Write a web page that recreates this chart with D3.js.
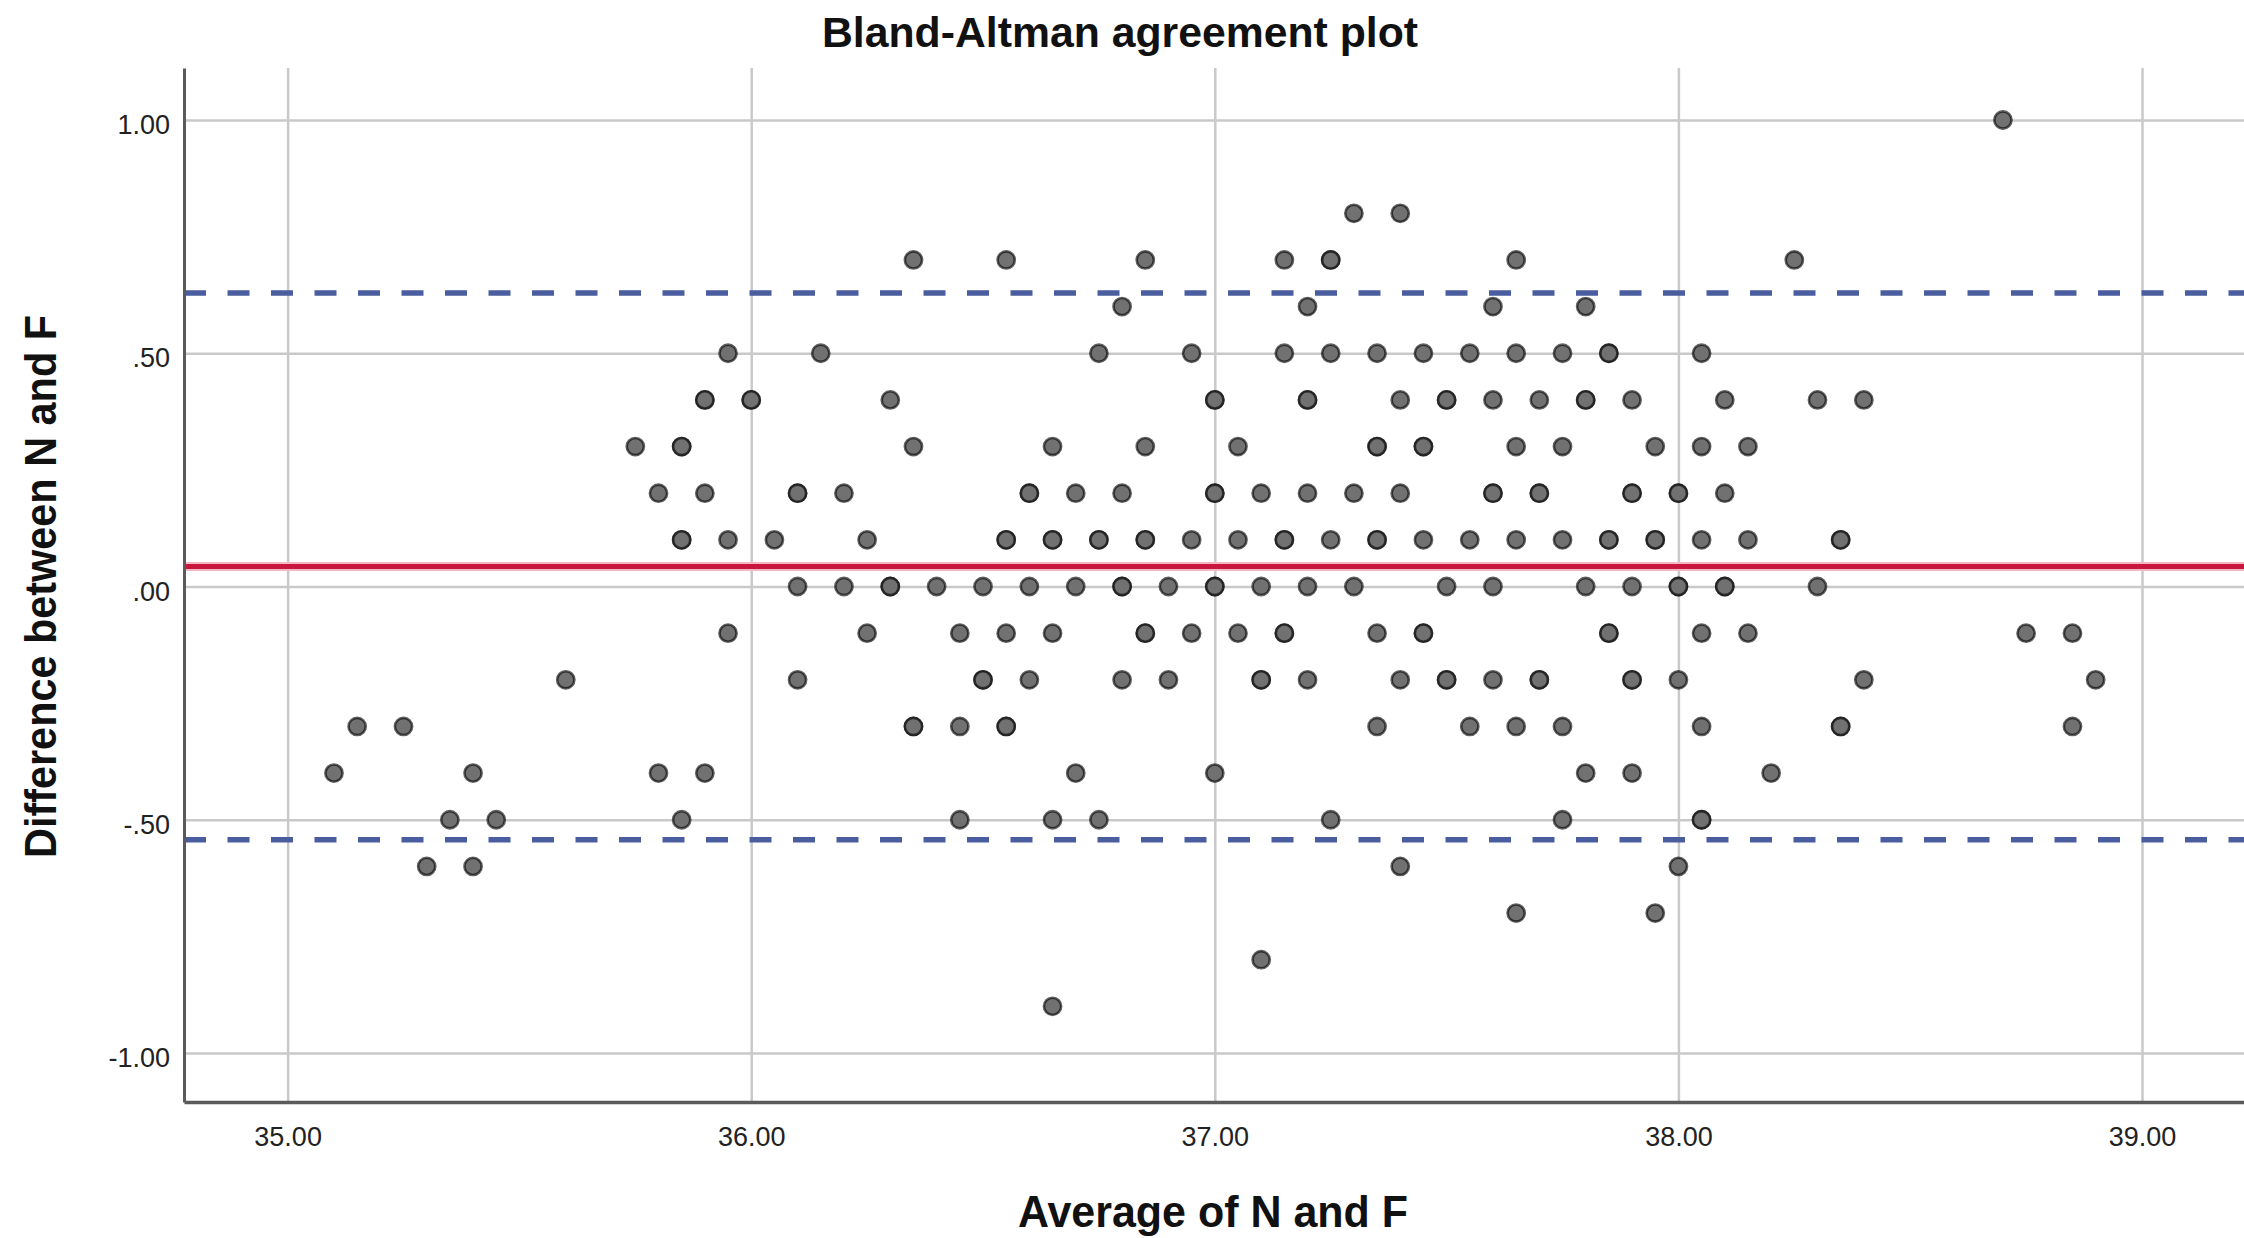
<!DOCTYPE html>
<html>
<head>
<meta charset="utf-8">
<script src="https://cdn.jsdelivr.net/npm/d3@7"></script>
<style>
  html, body { margin: 0; padding: 0; background: #ffffff; }
  svg { display: block; }
</style>
</head>
<body>
<script>
// average of N and F for each difference level (difference = row value)
var rowP100 = [38.70];
var rowP080 = [37.30, 37.40];
var rowP070 = [36.35, 36.55, 36.85, 37.15, 37.25, 37.65, 38.25];
var rowP060 = [36.80, 37.20, 37.60, 37.80];
var rowP050 = [35.95, 36.15, 36.75, 36.95, 37.15, 37.25, 37.35, 37.45, 37.55, 37.65, 37.75, 37.85, 38.05];
var rowP040 = [35.90, 36.00, 36.30, 37.00, 37.20, 37.40, 37.50, 37.60, 37.70, 37.80, 37.90, 38.10, 38.30, 38.40];
var rowP030 = [35.75, 35.85, 36.35, 36.65, 36.85, 37.05, 37.35, 37.45, 37.65, 37.75, 37.95, 38.05, 38.15];
var rowP020 = [35.80, 35.90, 36.10, 36.20, 36.60, 36.70, 36.80, 37.00, 37.10, 37.20, 37.30, 37.40, 37.60, 37.70, 37.90, 38.00, 38.10];
var rowP010 = [35.85, 35.95, 36.05, 36.25, 36.55, 36.65, 36.75, 36.85, 36.95, 37.05, 37.15, 37.25, 37.35, 37.45, 37.55, 37.65, 37.75, 37.85, 37.95, 38.05, 38.15, 38.35];
var row000 = [36.10, 36.20, 36.30, 36.40, 36.50, 36.60, 36.70, 36.80, 36.90, 37.00, 37.10, 37.20, 37.30, 37.50, 37.60, 37.80, 37.90, 38.00, 38.10, 38.30];
var rowN010 = [35.95, 36.25, 36.45, 36.55, 36.65, 36.85, 36.95, 37.05, 37.15, 37.35, 37.45, 37.85, 38.05, 38.15, 38.75, 38.85];
var rowN020 = [35.60, 36.10, 36.50, 36.60, 36.80, 36.90, 37.10, 37.20, 37.40, 37.50, 37.60, 37.70, 37.90, 38.00, 38.40, 38.90];
var rowN030 = [35.15, 35.25, 36.35, 36.45, 36.55, 37.35, 37.55, 37.65, 37.75, 38.05, 38.35, 38.85];
var rowN040 = [35.10, 35.40, 35.80, 35.90, 36.70, 37.00, 37.80, 37.90, 38.20];
var rowN050 = [35.35, 35.45, 35.85, 36.45, 36.65, 36.75, 37.25, 37.75, 38.05];
var rowN060 = [35.30, 35.40, 37.40, 38.00];
var rowN070 = [37.65, 37.95];
var rowN080 = [37.10];
var rowN090 = [36.65];

// points that appear darker (several cases at the same spot)
var repeats = [
    [36.00, 0.4], [35.90, 0.4], [35.85, 0.3], [35.85, 0.1], [36.10, 0.2],
    [37.00, 0.4], [37.20, 0.4], [37.50, 0.4], [37.80, 0.4], [37.25, 0.7],
    [37.35, 0.3], [37.45, 0.3], [36.60, 0.2], [37.00, 0.2], [37.60, 0.2],
    [37.70, 0.2], [37.90, 0.2], [38.00, 0.2], [36.55, 0.1], [36.65, 0.1],
    [36.75, 0.1], [36.85, 0.1], [37.15, 0.1], [37.35, 0.1], [37.85, 0.1],
    [37.95, 0.1], [38.35, 0.1], [36.30, 0.0], [36.80, 0.0], [37.00, 0.0],
    [38.00, 0.0], [38.10, 0.0], [36.85, -0.1], [37.15, -0.1], [37.45, -0.1],
    [37.85, -0.1], [36.50, -0.2], [37.10, -0.2], [37.50, -0.2], [37.70, -0.2],
    [37.90, -0.2], [36.35, -0.3], [36.55, -0.3], [38.35, -0.3], [38.05, -0.5],
    [37.85, 0.5]
];

var meanDiff = 0.043;
var upperLoA = 0.629;
var lowerLoA = -0.543;

var xTicks = [35, 36, 37, 38, 39];
var yTicks = [-1, -0.5, 0, 0.5, 1];

var rows = [
    [1.0, rowP100], [0.8, rowP080], [0.7, rowP070], [0.6, rowP060], [0.5, rowP050],
    [0.4, rowP040], [0.3, rowP030], [0.2, rowP020], [0.1, rowP010], [0.0, row000],
    [-0.1, rowN010], [-0.2, rowN020], [-0.3, rowN030], [-0.4, rowN040], [-0.5, rowN050],
    [-0.6, rowN060], [-0.7, rowN070], [-0.8, rowN080], [-0.9, rowN090]
];

var points = [];
rows.forEach(function(r) {
    r[1].forEach(function(avg) {
        points.push({avg: avg, diff: r[0]});
    });
});
repeats.forEach(function(p) {
    points.push({avg: p[0], diff: p[1]});
});

var W = 2244, H = 1238;
// note: "top" clashes with window.top, so the plot edges get their own names
var plotLeft = 184, plotRight = 2244, plotTop = 68, plotBottom = 1102;
var font = "'Liberation Sans', Arial, sans-serif";

var svg = d3.select("body").append("svg")
    .attr("width", W)
    .attr("height", H);

var x = d3.scaleLinear().domain([34.7765, 39.22]).range([plotLeft, plotRight]);
var y = d3.scaleLinear().domain([-1.105, 1.1115]).range([plotBottom, plotTop]);

// grid
svg.append("g")
    .attr("transform", "translate(0," + plotBottom + ")")
    .call(d3.axisBottom(x).tickValues(xTicks).tickSize(-(plotBottom - plotTop)).tickFormat(""))
    .call(function(g) { g.select(".domain").remove(); })
    .selectAll("line")
    .attr("stroke", "#c9c9c9")
    .attr("stroke-width", 2.5);

svg.append("g")
    .attr("transform", "translate(" + plotLeft + ",0)")
    .call(d3.axisLeft(y).tickValues(yTicks).tickSize(-(plotRight - plotLeft)).tickFormat(""))
    .call(function(g) { g.select(".domain").remove(); })
    .selectAll("line")
    .attr("stroke", "#c9c9c9")
    .attr("stroke-width", 2.5);

// reference lines
svg.append("line")
    .attr("x1", plotLeft).attr("x2", plotRight)
    .attr("y1", y(meanDiff)).attr("y2", y(meanDiff))
    .attr("stroke", "#f3b8c6")
    .attr("stroke-width", 9);
svg.append("line")
    .attr("x1", plotLeft).attr("x2", plotRight)
    .attr("y1", y(meanDiff)).attr("y2", y(meanDiff))
    .attr("stroke", "#c8173f")
    .attr("stroke-width", 5);

[upperLoA, lowerLoA].forEach(function(v) {
    svg.append("line")
        .attr("x1", plotLeft).attr("x2", plotRight)
        .attr("y1", y(v)).attr("y2", y(v))
        .attr("stroke", "#4a5e9f")
        .attr("stroke-width", 5.5)
        .attr("stroke-dasharray", "22,21.5");
});

// points
svg.append("g")
    .selectAll("circle")
    .data(points)
    .enter()
    .append("circle")
    .attr("cx", function(d) { return x(d.avg); })
    .attr("cy", function(d) { return y(d.diff); })
    .attr("r", 8.6)
    .attr("fill", "#717171")
    .attr("stroke", "#000000")
    .attr("stroke-opacity", 0.62)
    .attr("stroke-width", 2.6);

// axes
// SPSS style: plain hyphen and no leading zero (-.50, .00)
function fmtY(d) {
    var s = d.toFixed(2);
    return s.replace(/^(-?)0\./, "$1.");
}

var yAxis = svg.append("g")
    .attr("transform", "translate(" + plotLeft + ",0)")
    .call(d3.axisLeft(y).tickValues(yTicks).tickSize(0).tickPadding(14).tickFormat(fmtY));
yAxis.select(".domain").attr("stroke", "#5a5a5a").attr("stroke-width", 3);
yAxis.selectAll("text")
    .attr("font-family", font)
    .attr("font-size", 27)
    .attr("fill", "#222")
    .attr("dy", "0.5em");

var xAxis = svg.append("g")
    .attr("transform", "translate(0," + plotBottom + ")")
    .call(d3.axisBottom(x).tickValues(xTicks).tickSize(0).tickPadding(25).tickFormat(function(d) { return d.toFixed(2); }));
xAxis.select(".domain").attr("stroke", "#5a5a5a").attr("stroke-width", 3.5);
xAxis.selectAll("text")
    .attr("font-family", font)
    .attr("font-size", 27)
    .attr("fill", "#222");

// titles
svg.append("text")
    .attr("x", 1120)
    .attr("y", 47)
    .attr("text-anchor", "middle")
    .attr("font-family", font)
    .attr("font-weight", "bold")
    .attr("font-size", 42)
    .attr("textLength", 596)
    .attr("lengthAdjust", "spacingAndGlyphs")
    .attr("fill", "#111")
    .text("Bland-Altman agreement plot");

svg.append("text")
    .attr("x", 1213)
    .attr("y", 1227)
    .attr("text-anchor", "middle")
    .attr("font-family", font)
    .attr("font-weight", "bold")
    .attr("font-size", 44)
    .attr("textLength", 390)
    .attr("lengthAdjust", "spacingAndGlyphs")
    .attr("fill", "#111")
    .text("Average of N and F");

svg.append("text")
    .attr("transform", "translate(56," + y(0) + ") rotate(-90)")
    .attr("text-anchor", "middle")
    .attr("font-family", font)
    .attr("font-weight", "bold")
    .attr("font-size", 44)
    .attr("textLength", 543)
    .attr("lengthAdjust", "spacingAndGlyphs")
    .attr("fill", "#111")
    .text("Difference between N and F");
</script>
</body>
</html>
